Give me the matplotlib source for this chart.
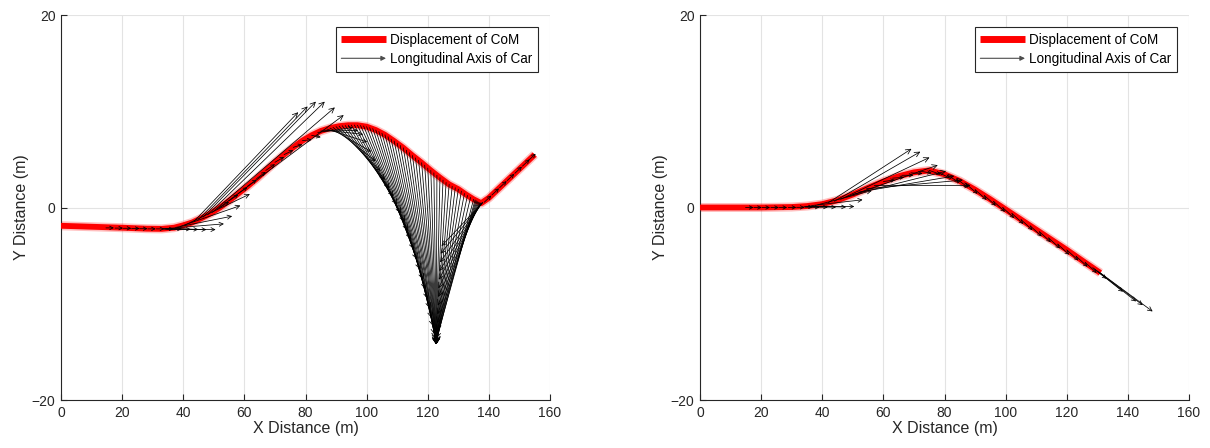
import numpy as np
import matplotlib
matplotlib.use("Agg")
import matplotlib.pyplot as plt
from matplotlib.lines import Line2D
from matplotlib.patches import FancyArrowPatch
from matplotlib.legend_handler import HandlerBase

plt.rcParams['font.family'] = ['Liberation Sans', 'DejaVu Sans']

# ---------------- data: left panel ----------------
left_com_x = [0, 10, 20, 28, 33, 37, 40, 43, 46, 49, 52, 55, 58, 61, 64, 67, 70, 73, 76, 79,
              82, 85, 88, 91, 94, 97, 100, 103, 106, 109, 112, 115, 118, 121, 124, 127, 130,
              132.5, 135, 137.5, 140, 145, 150, 155]
left_com_y = [-1.9, -2.0, -2.1, -2.2, -2.22, -2.1, -1.85, -1.55, -1.1, -0.6, 0.0, 0.7, 1.45,
              2.2, 3.0, 3.85, 4.7, 5.5, 6.25, 6.95, 7.5, 7.95, 8.25, 8.45, 8.55, 8.55, 8.4,
              8.05, 7.55, 6.9, 6.2, 5.4, 4.65, 3.85, 3.1, 2.4, 1.9, 1.35, 0.85, 0.45, 1.0,
              2.5, 4.0, 5.5]

left_tail_x = [14.7, 17.7, 20.4, 23.1, 25.7, 28.4, 31.2,
               33.2, 33.5, 33.8, 34.1, 34.4, 34.7,
               36.0, 37.5, 39.0, 40.5,
               43.5, 45.0, 46.5, 48.0, 49.5, 51.0,
               52, 55, 58, 61, 64, 67, 70, 73, 76, 79, 82,
               84, 85, 86, 87, 88, 89, 90, 91, 92, 93, 94, 95, 96, 97, 98, 99, 100, 101, 102,
               103, 104, 105, 106, 107, 108,
               109, 110, 111, 112, 113, 114, 115, 116, 117, 118, 119, 120, 121, 122, 123,
               124, 125, 126, 127, 128, 129, 130, 131, 132, 133, 134, 135,
               135.5, 135.8, 136.1, 136.4, 136.7, 137.0, 137.2, 137.4, 137.6, 137.8, 137.9,
               138.0,
               138.5, 141.0, 143.5, 146.0, 148.5, 151.0, 153.0]
left_tail_y = [-2.12, -2.14, -2.16, -2.18, -2.2, -2.22, -2.22,
               -2.22, -2.22, -2.22, -2.22, -2.22, -2.22,
               -2.15, -2.07, -1.97, -1.83,
               -1.45, -1.25, -1.0, -0.75, -0.5, -0.2,
               0.0, 0.7, 1.45, 2.2, 3.0, 3.85, 4.7, 5.5, 6.25, 6.95, 7.5,
               7.8, 7.95, 8.05, 8.15, 8.25, 8.32, 8.4, 8.45, 8.5, 8.52, 8.55, 8.56, 8.57,
               8.55, 8.52, 8.47, 8.4, 8.3, 8.2, 8.05, 7.9, 7.72, 7.55, 7.35, 7.1,
               6.9, 6.68, 6.45, 6.2, 5.95, 5.7, 5.4, 5.15, 4.9, 4.65, 4.4, 4.1, 3.85, 3.6,
               3.35, 3.1, 2.85, 2.6, 2.4, 2.2, 2.05, 1.9, 1.7, 1.45, 1.25, 1.05, 0.85,
               0.78, 0.72, 0.66, 0.6, 0.54, 0.5, 0.47, 0.45, 0.45, 0.47, 0.5, 0.52,
               0.55, 1.3, 2.05, 2.8, 3.55, 4.3, 4.9]
left_head_x = [17.3, 20.3, 23.0, 25.7, 28.3, 31.0, 33.8,
               36.8, 39.5, 42.4, 44.9, 47.6, 50.6,
               53.3, 56.0, 58.7, 61.8,
               77.6, 80.7, 83.4, 86.3, 89.6, 92.5,
               55, 58, 61, 64, 67, 70, 73, 76, 79, 82, 85,
               95.5, 97.2, 98.9, 100.2, 101.5, 103.0, 104.5, 106.0, 107.5, 108.8, 110.0,
               111.3, 112.5, 113.5, 114.5, 115.5, 116.5, 117.5, 118.5, 119.3, 120.0, 120.7,
               121.3, 121.8, 122.3,
               122.5, 122.6, 122.6, 122.7, 122.7, 122.7, 122.8, 122.8, 122.8, 122.8, 122.8,
               122.8, 122.8, 122.8, 122.8, 122.8, 122.8, 122.8, 122.8, 122.8, 122.8, 122.8,
               122.8, 122.8, 122.8, 122.8, 122.8,
               122.9, 123.0, 123.1, 123.2, 123.3, 123.4, 123.5, 123.6, 123.8, 124.0, 124.2,
               124.5,
               140.8, 143.3, 145.8, 148.3, 150.8, 153.3, 155.3]
left_head_y = [-2.12, -2.14, -2.16, -2.18, -2.2, -2.22, -2.22,
               -2.22, -2.24, -2.26, -2.28, -2.3, -2.3,
               -1.7, -0.9, 0.2, 1.4,
               9.9, 10.5, 11.0, 11.0, 10.4, 9.6,
               0.6, 1.35, 2.1, 2.9, 3.7, 4.5, 5.25, 5.95, 6.55, 7.05, 7.3,
               8.3, 8.0, 7.6, 6.8, 5.8, 4.8, 3.8, 2.9, 2.0, 1.15, 0.3, -0.6, -1.5, -2.4,
               -3.3, -4.35, -5.4, -6.45, -7.5, -8.5, -9.5, -10.5, -11.5, -12.35, -13.2,
               -13.6, -13.8, -14.0, -14.1, -14.2, -14.2, -14.2, -14.2, -14.2, -14.2, -14.2,
               -14.2, -14.2, -14.2, -14.2, -14.2, -14.2, -14.2, -14.2, -14.2, -14.2, -14.2,
               -14.1, -14.1, -14.0, -14.0, -13.9,
               -13.6, -12.8, -12.0, -11.1, -10.2, -9.3, -8.4, -7.5, -6.6, -5.7, -4.8, -4.0,
               1.24, 1.99, 2.74, 3.49, 4.24, 4.99, 5.59]

# ---------------- data: right panel ----------------
right_com_x = [0, 10, 20, 30, 35, 40, 45, 50, 55, 60, 65, 70, 75, 80, 85, 90, 95, 100,
               105, 110, 115, 120, 125, 131]
right_com_y = [0, 0, 0, 0.05, 0.15, 0.35, 0.75, 1.35, 2.05, 2.7, 3.25, 3.65, 3.85, 3.45,
               2.75, 1.85, 0.85, -0.2, -1.25, -2.3, -3.35, -4.4, -5.5, -6.8]

right_tail_x = [14.9, 17.6, 20.3, 23.2, 25.9, 28.9, 31.6, 34.3,
                34.0, 34.4, 34.8, 35.2, 35.6,
                36.5, 38.5,
                42, 44, 46, 48, 50, 52, 54.5, 57,
                60, 63, 66, 69, 72, 75, 78, 81, 84, 87, 90, 93, 96, 99, 102, 105, 108,
                111, 114, 117, 120, 123, 126,
                128.5, 129.3, 130.0, 130.5, 131.0]
right_tail_y = [0, 0, 0, 0, 0, 0.01, 0.02, 0.06,
                0.07, 0.08, 0.1, 0.12, 0.14,
                0.2, 0.28,
                0.5, 0.65, 0.85, 1.1, 1.35, 1.6, 1.95, 2.3,
                2.7, 3.05, 3.35, 3.6, 3.78, 3.85, 3.65, 3.35, 2.95, 2.45, 1.85, 1.25, 0.65,
                0.0, -0.6, -1.25, -1.9, -2.5, -3.15, -3.8, -4.4, -5.05, -5.7,
                -6.25, -6.45, -6.6, -6.7, -6.8]
right_head_x = [17.5, 20.2, 22.9, 25.8, 28.5, 31.5, 34.2, 36.9,
                39.1, 41.8, 44.5, 47.8, 50.5,
                53.2, 56.2,
                69.2, 72.1, 75.1, 77.8, 80.5, 83.2, 86.0, 88.5,
                63.8, 66.8, 69.8, 72.8, 75.8, 78.8, 81.8, 84.8, 87.8, 90.8, 93.8, 96.8,
                99.8, 102.8, 105.8, 108.8, 111.8, 114.8, 117.8, 120.8, 123.8, 126.8, 129.8,
                133.0, 138.4, 142.7, 144.9, 148.1]
right_head_y = [0, 0, 0, 0, 0, 0.01, 0.02, 0.06,
                0.02, 0.03, 0.03, 0.05, 0.1,
                0.8, 1.75,
                6.1, 5.8, 5.2, 4.4, 3.77, 3.27, 2.85, 2.3,
                2.86, 3.13, 3.35, 3.53, 3.56, 3.44, 3.05, 2.6, 2.08, 1.43, 0.79, 0.19,
                -0.45, -1.1, -1.7, -2.35, -3.0, -3.6, -4.25, -4.9, -5.5, -6.15, -6.8,
                -7.4, -8.75, -9.76, -10.15, -10.8]

x_ticks = [0, 20, 40, 60, 80, 100, 120, 140, 160]
y_ticks = [-20, 0, 20]
legend_labels = ['Displacement of CoM', 'Longitudinal Axis of Car']

# ---------------- styling ----------------
TXT = '#262626'
GRID = '#e3e3e3'


class ArrowHandler(HandlerBase):
    def create_artists(self, legend, orig_handle, xdescent, ydescent, width, height,
                       fontsize, trans):
        y = height / 2.0 - ydescent
        a = FancyArrowPatch((-xdescent, y), (-xdescent + width, y), arrowstyle='-|>',
                            mutation_scale=7, lw=0.8, color='#4d4d4d',
                            shrinkA=0, shrinkB=0, transform=trans)
        return [a]


fig = plt.figure(figsize=(12.10, 4.48), dpi=100)
W, H = 1210.0, 448.0
ax1 = fig.add_axes([61 / W, 1 - 400 / H, 489 / W, 385 / H])
ax2 = fig.add_axes([700 / W, 1 - 400 / H, 489 / W, 385 / H])


def setup(ax):
    ax.set_xlim(0, 160)
    ax.set_ylim(-20, 20)
    ax.set_xticks(x_ticks)
    ax.set_yticks(y_ticks)
    ax.grid(True, color=GRID, lw=0.8)
    ax.set_axisbelow(True)
    for s in ['top', 'right']:
        ax.spines[s].set_visible(False)
    for s in ['left', 'bottom']:
        ax.spines[s].set_color(TXT)
        ax.spines[s].set_linewidth(0.8)
    ax.tick_params(direction='in', length=4, width=0.8, color=TXT, labelcolor=TXT,
                   labelsize=10, pad=4)
    ax.set_xlabel('X Distance (m)', fontsize=11.5, color=TXT, labelpad=1)
    ax.set_ylabel('Y Distance (m)', fontsize=11.5, color=TXT, labelpad=2)


def draw(ax, cx, cy, tx, ty, hx, hy):
    ax.plot(cx, cy, color='#ff0000', lw=6.5, alpha=0.25, solid_capstyle='butt', zorder=2)
    ax.plot(cx, cy, color='#ff0000', lw=4.2, solid_capstyle='butt', zorder=3)
    t = ax.transData.transform(np.column_stack([tx, ty]))
    h = ax.transData.transform(np.column_stack([hx, hy]))
    for i in range(len(tx)):
        L = float(np.hypot(*(h[i] - t[i])))
        ms = float(np.clip(5.0 + 0.04 * L, 6.0, 9.0))
        ax.annotate('', xy=(hx[i], hy[i]), xytext=(tx[i], ty[i]),
                    arrowprops=dict(arrowstyle='->', color='k', lw=0.55,
                                    shrinkA=0, shrinkB=0, mutation_scale=ms),
                    zorder=4)
    h1 = Line2D([], [], color='#ff0000', lw=5, solid_capstyle='butt')
    h2 = Line2D([], [], color='#4d4d4d')
    leg = ax.legend([h1, h2], legend_labels, loc='upper right',
                    bbox_to_anchor=(0.9755, 0.969), handler_map={h2: ArrowHandler()},
                    fontsize=9.75, frameon=True, fancybox=False, framealpha=1,
                    edgecolor=TXT, handlelength=3.3, handletextpad=0.3,
                    borderpad=0.42, labelspacing=0.4, borderaxespad=0)
    leg.get_frame().set_linewidth(0.8)
    leg.set_zorder(10)


setup(ax1)
setup(ax2)
draw(ax1, left_com_x, left_com_y, left_tail_x, left_tail_y, left_head_x, left_head_y)
draw(ax2, right_com_x, right_com_y, right_tail_x, right_tail_y, right_head_x, right_head_y)

fig.savefig('out.png', dpi=100)
